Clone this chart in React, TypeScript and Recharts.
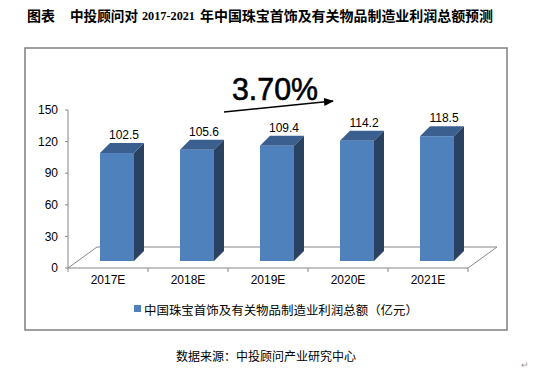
import React from "react";
import { Bar, BarChart, LabelList, ReferenceLine, XAxis, YAxis } from "recharts";

const years = ["2017E", "2018E", "2019E", "2020E", "2021E"];
const profits = [102.5, 105.6, 109.4, 114.2, 118.5];
const yTicks = [0, 30, 60, 90, 120, 150];
const seriesName = "中国珠宝首饰及有关物品制造业利润总额（亿元）";
const growthLabel = "3.70%";

const data = years.map((year, i) => ({ year, profit: profits[i] }));

const FRONT = "#4F81BD";
const TOP = "#3B5F8E";
const SIDE = "#2A4262";
const GRID = "#868686";
const LATIN = "'Liberation Sans', Arial, sans-serif";
const CJK = "'Noto Sans CJK SC', sans-serif";

// floor depth and where the columns sit inside it
const FLOOR_DX = 29;
const FLOOR_DY = 21;
const BAR_SHIFT_X = 9;
const BAR_SHIFT_Y = 7;
const COL_DEPTH = 10;

function Column3D(props: any) {
  const { x, y, width, height } = props;
  if (height == null || height <= 0) return null;
  const fx = x + BAR_SHIFT_X;
  const fy = y - BAR_SHIFT_Y;
  const d = COL_DEPTH;
  return (
    <g>
      <polygon
        points={`${fx},${fy} ${fx + d},${fy - d} ${fx + width + d},${fy - d} ${fx + width},${fy}`}
        fill={TOP}
      />
      <polygon
        points={`${fx + width},${fy} ${fx + width + d},${fy - d} ${fx + width + d},${fy + height - d} ${fx + width},${fy + height}`}
        fill={SIDE}
      />
      <rect x={fx} y={fy} width={width} height={height} fill={FRONT} />
    </g>
  );
}

// the 3D floor plus tick marks on category boundaries
function Floor(props: any) {
  const { x1, y1, x2 } = props;
  const y = y1;
  const n = years.length;
  const step = (x2 - x1) / n;
  return (
    <g stroke={GRID} strokeWidth={1} fill="none">
      <polyline
        points={`${x1},${y} ${x1 + FLOOR_DX},${y - FLOOR_DY} ${x2 + FLOOR_DX},${y - FLOOR_DY} ${x2},${y}`}
      />
      {Array.from({ length: n + 1 }, (_, i) => (
        <line key={i} x1={x1 + i * step} y1={y} x2={x1 + i * step} y2={y + 4} />
      ))}
    </g>
  );
}

function ValueLabel(props: any) {
  const { x, y, value } = props;
  return (
    <text
      x={x + 33}
      y={y - 21}
      textAnchor="middle"
      fontFamily={LATIN}
      fontSize={12}
      fill="#000"
    >
      {Number(value).toFixed(1)}
    </text>
  );
}

export default function App() {
  return (
    <div style={{ position: "absolute", left: 0, top: 0, width: 534, height: 378, background: "#fff" }}>
      <BarChart
        width={534}
        height={378}
        data={data}
        margin={{ top: 110, right: 66, bottom: 80, left: 28 }}
      >
        <ReferenceLine y={0} shape={<Floor />} zIndex={-1} />
        <XAxis
          dataKey="year"
          axisLine={{ stroke: GRID }}
          tickLine={false}
          tickSize={4}
          tickMargin={3}
          height={30}
          interval={0}
          tick={{ fill: "#000", fontSize: 12, fontFamily: LATIN }}
        />
        <YAxis
          domain={[0, 150]}
          ticks={yTicks}
          interval={0}
          width={40}
          axisLine={{ stroke: GRID }}
          tickLine={{ stroke: GRID }}
          tickSize={3}
          tickMargin={7}
          tick={{ fill: "#000", fontSize: 12, fontFamily: LATIN }}
        />
        <Bar dataKey="profit" barSize={34} shape={<Column3D />} isAnimationActive={false}>
          <LabelList dataKey="profit" content={<ValueLabel />} />
        </Bar>
      </BarChart>

      <svg
        width={534}
        height={378}
        style={{ position: "absolute", left: 0, top: 0, pointerEvents: "none" }}
      >
        <defs>
          <marker id="arrow" markerWidth="10" markerHeight="8" refX="9" refY="4" orient="auto" markerUnits="userSpaceOnUse">
            <path d="M0,0 L10,4 L0,8 Z" fill="#000" />
          </marker>
        </defs>

        {/* title */}
        <g fontWeight="bold" fill="#000" dominantBaseline="central">
          <text x={27} y={15} fontFamily={CJK} fontSize={14}>图表</text>
          <text x={70} y={15} fontFamily={CJK} fontSize={14} textLength={68} lengthAdjust="spacingAndGlyphs">中投顾问对</text>
          <text x={142} y={15} fontFamily="'Liberation Serif', serif" fontSize={13} textLength={53} lengthAdjust="spacingAndGlyphs">2017-2021</text>
          <text x={200} y={15} fontFamily={CJK} fontSize={14} textLength={293} lengthAdjust="spacingAndGlyphs">
            年中国珠宝首饰及有关物品制造业利润总额预测
          </text>
        </g>

        {/* chart frame */}
        <rect x={25} y={48} width={482} height={282} fill="none" stroke="#7F7F7F" strokeWidth={1.5} />

        {/* growth annotation */}
        <text x={232} y={100} fontFamily={LATIN} fontSize={31} fill="#000" stroke="#000" strokeWidth={0.6} textLength={86} lengthAdjust="spacingAndGlyphs">
          {growthLabel}
        </text>
        <line x1={224} y1={112} x2={333} y2={101} stroke="#000" strokeWidth={1.3} markerEnd="url(#arrow)" />

        {/* legend */}
        <rect x={134} y={305} width={7} height={7} fill={FRONT} />
        <text x={144} y={309} fontFamily={CJK} fontSize={12} fill="#000" dominantBaseline="central" textLength={274} lengthAdjust="spacingAndGlyphs">
          {seriesName}
        </text>

        {/* source */}
        <text x={176} y={355} fontFamily={CJK} fontSize={12} fill="#000" dominantBaseline="central" textLength={180} lengthAdjust="spacingAndGlyphs">
          数据来源：中投顾问产业研究中心
        </text>
        <text x={521} y={364} fontFamily={CJK} fontSize={9} fill="#999" dominantBaseline="central">↵</text>
      </svg>
    </div>
  );
}
